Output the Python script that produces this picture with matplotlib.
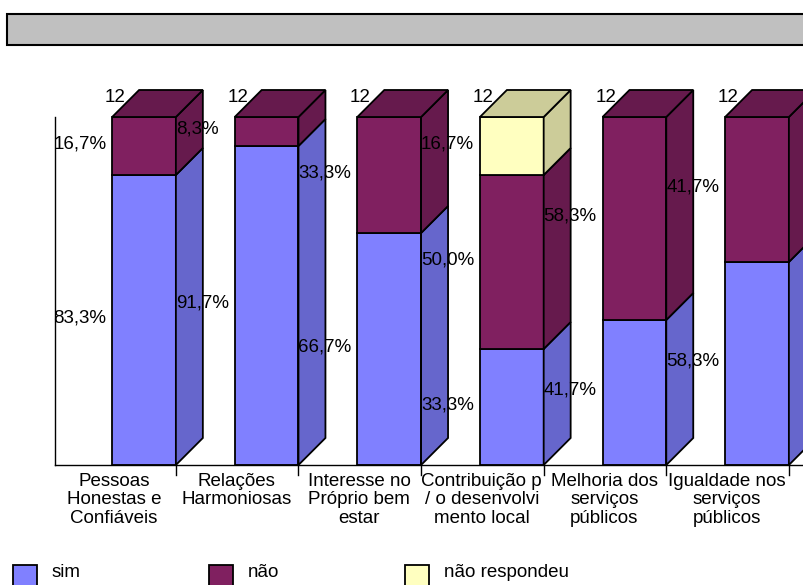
import matplotlib
matplotlib.use("Agg")
import matplotlib.pyplot as plt
from matplotlib.patches import Polygon, Rectangle

plt.rcParams['font.family'] = ['Liberation Sans', 'DejaVu Sans']

categories = [
    "Pessoas\nHonestas e\nConfiáveis",
    "Relações\nHarmoniosas",
    "Interesse no\nPróprio bem\nestar",
    "Contribuição p\n/ o desenvolvi\nmento local",
    "Melhoria dos\nserviços\npúblicos",
    "Igualdade nos\nserviços\npúblicos",
]
series = ["sim", "não", "não respondeu"]
sim = [10, 11, 8, 4, 5, 7]
nao = [2, 1, 4, 6, 7, 5]
nao_resp = [0, 0, 0, 2, 0, 0]
totals = [12, 12, 12, 12, 12, 12]

front_cols = ["#8080FF", "#802060", "#FFFFC0"]
shade_cols = ["#6666CC", "#661A4D", "#CCCC99"]

W, H = 804, 585
fig = plt.figure(figsize=(W / 100, H / 100), dpi=100)
ax = fig.add_axes([0, 0, 1, 1])
ax.set_xlim(-144 / 122.6, (W - 144) / 122.6)
ax.set_ylim(-(H - 465) / 3.48, 465 / 3.48)
ax.axis("off")

bw = 0.52          # front face width
dx, dy = 0.22, 7.76  # depth offset

# floor edge and left wall edge
ax.plot([-0.73, 5.6], [0, 0], color="black", lw=1, clip_on=False)
ax.plot([-0.73, -0.73], [0, 100], color="black", lw=1)
for i in range(len(categories)):
    ax.plot([i + bw / 2] * 2, [0, -2.9], color="black", lw=1)

fmt = lambda v: f"{v:.1f}%".replace(".", ",")
fs = 13.5

for i, cat in enumerate(categories):
    vals = [sim[i], nao[i], nao_resp[i]]
    x0, x1 = i - bw / 2, i + bw / 2
    base = 0.0
    top_k = max(k for k, v in enumerate(vals) if v > 0)
    for k, v in enumerate(vals):
        if v == 0:
            continue
        h = 100.0 * v / totals[i]
        y0, y1 = base, base + h
        ax.add_patch(Rectangle((x0, y0), bw, h, facecolor=front_cols[k],
                               edgecolor="black", lw=1.3))
        ax.add_patch(Polygon([(x1, y0), (x1 + dx, y0 + dy), (x1 + dx, y1 + dy), (x1, y1)],
                             facecolor=shade_cols[k], edgecolor="black", lw=1.3))
        if k == top_k:
            ax.add_patch(Polygon([(x0, y1), (x0 + dx, y1 + dy), (x1 + dx, y1 + dy), (x1, y1)],
                                 facecolor=shade_cols[k], edgecolor="black", lw=1.3))
        ax.text(i - 0.74, (y0 + y1) / 2 + 0.6, fmt(h), ha="left", va="center", fontsize=fs)
        base = y1
    ax.text(x0 + 0.11, 105.5, str(totals[i]), ha="right", va="center", fontsize=fs)
    ax.text(i - 0.245, -2.2, cat, ha="center", va="top", fontsize=fs, linespacing=1.13)

# legend along the bottom
for k, name in enumerate(series):
    lx = -144 / 122.6 + (13 + 196 * k) / 122.6
    ax.add_patch(Rectangle((lx, -35.5), 24 / 122.6, 6.9, facecolor=front_cols[k],
                           edgecolor="black", lw=1.3, clip_on=False))
    ax.text(lx + 39 / 122.6, -31.0, name, ha="left", va="center", fontsize=fs)

# empty title box
fig.patches.append(Rectangle((7 / W, 1 - 45 / H), 1.0, 31 / H, transform=fig.transFigure,
                             facecolor="#C0C0C0", edgecolor="black", lw=1.5))

fig.savefig("out.png", dpi=100)
